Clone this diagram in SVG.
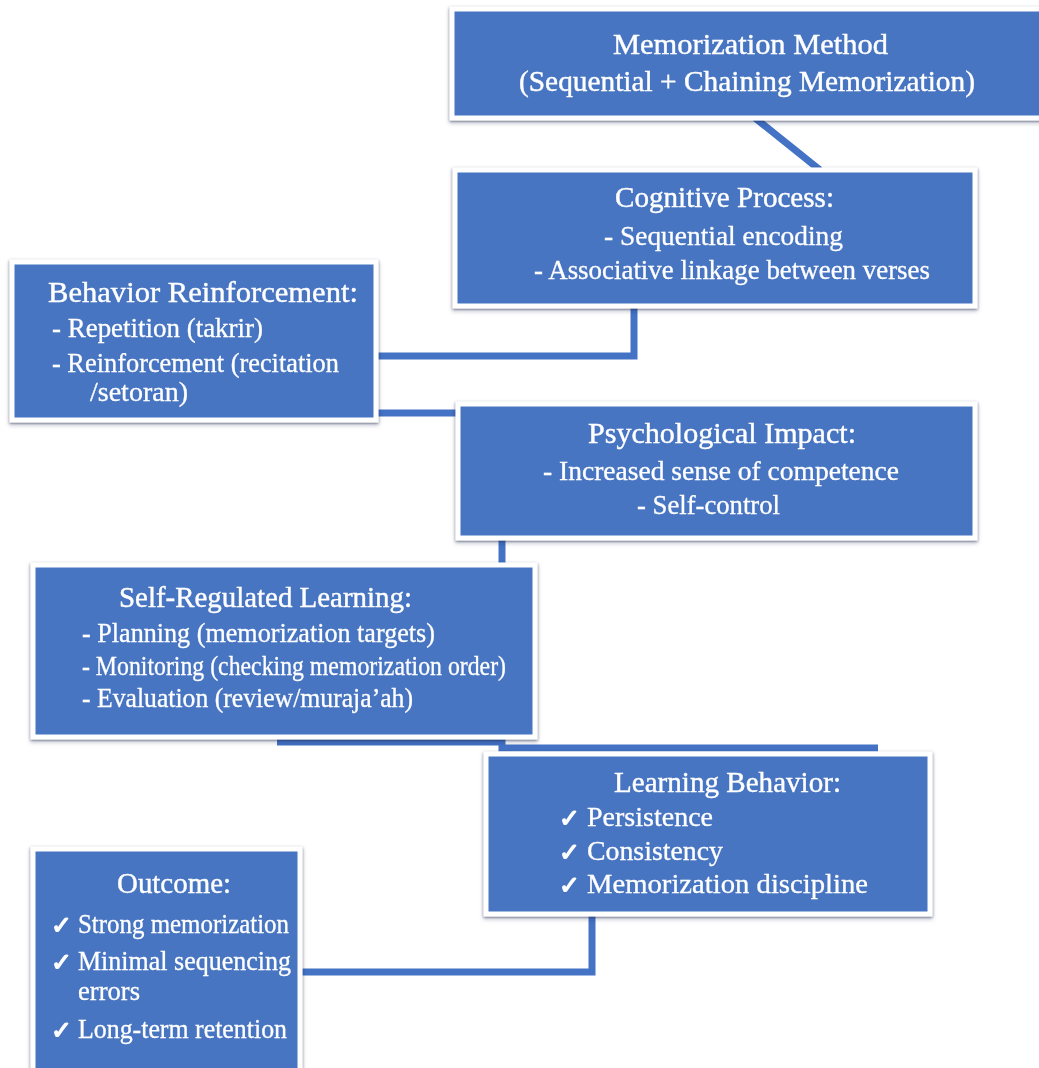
<svg xmlns="http://www.w3.org/2000/svg" width="1039" height="1068" viewBox="0 0 1039 1068">
<defs>
<filter id="sh" x="-5%" y="-5%" width="110%" height="115%">
<feDropShadow dx="0" dy="2" stdDeviation="2" flood-color="#000" flood-opacity="0.18"/>
</filter>
<filter id="ts" x="-5%" y="-20%" width="110%" height="140%">
<feDropShadow dx="0" dy="1" stdDeviation="0.8" flood-color="#1a2f5c" flood-opacity="0.6"/>
</filter>
</defs>
<style>
.box{fill:#4775c1;stroke:#ffffff;stroke-width:5;}
.t{font-family:"Liberation Serif","DejaVu Serif",serif;fill:#ffffff;stroke:#ffffff;stroke-width:0.4;font-size:29px;}
.b{font-family:"Liberation Serif","DejaVu Serif",serif;fill:#ffffff;stroke:#ffffff;stroke-width:0.3;font-size:27px;}
.ck{font-family:"DejaVu Sans",sans-serif;fill:#ffffff;stroke:#ffffff;stroke-width:1.3;stroke-linejoin:round;font-size:25px;}
.con{fill:none;stroke:#4472c4;stroke-width:7;}
</style>
<rect width="1039" height="1068" fill="#ffffff"/>
<g id="connectors">
<line class="con" x1="755" y1="118" x2="820" y2="170"/>
<polyline class="con" points="634,305 634,356 376,356"/>
<line class="con" x1="376" y1="413" x2="460" y2="413"/>
<line class="con" x1="502" y1="538" x2="502" y2="566"/>
<polyline class="con" points="277,742 502,742 502,748 878,748"/>
<polyline class="con" points="592,914 592,972 300,972"/>
</g>
<g filter="url(#ts)">
<g id="n1">
<rect class="box" x="452" y="9" width="600" height="109" filter="url(#sh)"/>
<text class="t" x="613" y="54" textLength="275" lengthAdjust="spacingAndGlyphs">Memorization Method</text>
<text class="t" x="519" y="91" textLength="456" lengthAdjust="spacingAndGlyphs">(Sequential + Chaining Memorization)</text>
</g>
<g id="n2">
<rect class="box" x="455" y="170" width="520" height="136" filter="url(#sh)"/>
<text class="t" x="615" y="207" textLength="219" lengthAdjust="spacingAndGlyphs">Cognitive Process:</text>
<text class="b" x="604" y="245" textLength="239" lengthAdjust="spacingAndGlyphs">- Sequential encoding</text>
<text class="b" x="534" y="279" textLength="396" lengthAdjust="spacingAndGlyphs">- Associative linkage between verses</text>
</g>
<g id="n3">
<rect class="box" x="12" y="262" width="364" height="158" filter="url(#sh)"/>
<text class="t" x="48" y="302" textLength="310" lengthAdjust="spacingAndGlyphs">Behavior Reinforcement:</text>
<text class="b" x="52" y="337" textLength="211" lengthAdjust="spacingAndGlyphs">- Repetition (takrir)</text>
<text class="b" x="52" y="372" textLength="287" lengthAdjust="spacingAndGlyphs">- Reinforcement (recitation</text>
<text class="b" x="90" y="401" textLength="98" lengthAdjust="spacingAndGlyphs">/setoran)</text>
</g>
<g id="n4">
<rect class="box" x="458" y="404" width="517" height="134" filter="url(#sh)"/>
<text class="t" x="588" y="443" textLength="268" lengthAdjust="spacingAndGlyphs">Psychological Impact:</text>
<text class="b" x="543" y="480" textLength="356" lengthAdjust="spacingAndGlyphs">- Increased sense of competence</text>
<text class="b" x="637" y="514" textLength="143" lengthAdjust="spacingAndGlyphs">- Self-control</text>
</g>
<g id="n5">
<rect class="box" x="33" y="565" width="502" height="172" filter="url(#sh)"/>
<text class="t" x="119" y="607" textLength="293" lengthAdjust="spacingAndGlyphs">Self-Regulated Learning:</text>
<text class="b" x="82" y="642" textLength="353" lengthAdjust="spacingAndGlyphs">- Planning (memorization targets)</text>
<text class="b" x="82" y="675" textLength="424" lengthAdjust="spacingAndGlyphs">- Monitoring (checking memorization order)</text>
<text class="b" x="82" y="707" textLength="331" lengthAdjust="spacingAndGlyphs">- Evaluation (review/muraja’ah)</text>
</g>
<g id="n6">
<rect class="box" x="486" y="754" width="444" height="160" filter="url(#sh)"/>
<text class="t" x="614" y="792" textLength="227" lengthAdjust="spacingAndGlyphs">Learning Behavior:</text>
<text class="ck" x="559" y="827">✓</text>
<text class="b" x="587" y="826" textLength="126" lengthAdjust="spacingAndGlyphs">Persistence</text>
<text class="ck" x="559" y="861">✓</text>
<text class="b" x="587" y="860" textLength="136" lengthAdjust="spacingAndGlyphs">Consistency</text>
<text class="ck" x="559" y="894">✓</text>
<text class="b" x="587" y="893" textLength="281" lengthAdjust="spacingAndGlyphs">Memorization discipline</text>
</g>
<g id="n7">
<rect class="box" x="33" y="849" width="267" height="230" filter="url(#sh)"/>
<text class="t" x="117" y="893" textLength="114" lengthAdjust="spacingAndGlyphs">Outcome:</text>
<text class="ck" x="51" y="934">✓</text>
<text class="b" x="78" y="933" textLength="211" lengthAdjust="spacingAndGlyphs">Strong memorization</text>
<text class="ck" x="51" y="971">✓</text>
<text class="b" x="78" y="970" textLength="213" lengthAdjust="spacingAndGlyphs">Minimal sequencing</text>
<text class="b" x="78" y="1000" textLength="62" lengthAdjust="spacingAndGlyphs">errors</text>
<text class="ck" x="51" y="1039">✓</text>
<text class="b" x="78" y="1038" textLength="209" lengthAdjust="spacingAndGlyphs">Long-term retention</text>
</g>
</g>
</svg>
